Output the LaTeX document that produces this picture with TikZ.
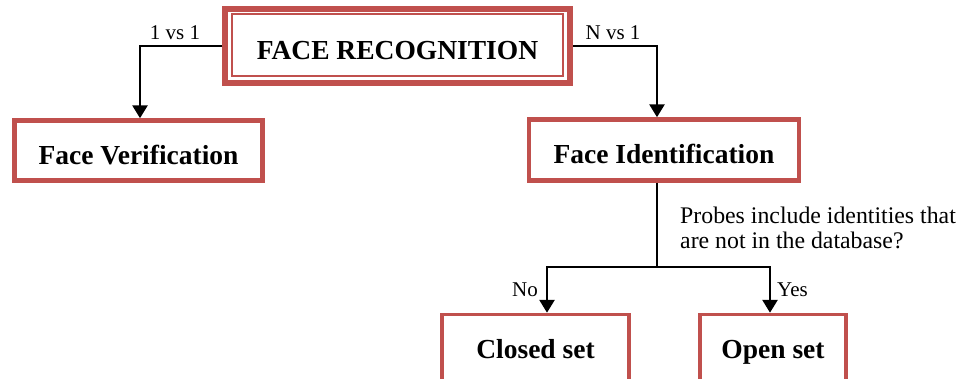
\documentclass[tikz,border=0pt]{standalone}
\usepackage{fontspec}
\setmainfont{Liberation Serif}
\usetikzlibrary{arrows.meta}
\definecolor{boxred}{RGB}{192,80,77}
\begin{document}
\begin{tikzpicture}[x=1pt,y=-1pt,
  box/.style={draw=boxred, fill=white, rectangle, inner sep=0pt,
    text height=#1, text depth=0pt,
    font=\fontsize{27.5}{30}\selectfont\bfseries},
  box/.default=20pt,
  conn/.style={line width=2.8pt, draw=black},
  arr/.style={conn, -{Triangle[width=15pt,length=13pt]}},
  lbl/.style={inner sep=0pt, font=\fontsize{21}{25}\selectfont}
]
\useasboundingbox (0,0) rectangle (960,378);
\clip (0,0) rectangle (960,378);

% root box with a doubled frame
\node[box=27pt, line width=6pt, minimum width=345pt, minimum height=74pt] (rec) at (397.5,46) {FACE RECOGNITION};
\draw[boxred, line width=1.8pt] ([xshift=10pt,yshift=-8pt]rec.north west) rectangle ([xshift=-10pt,yshift=10pt]rec.south east);

% second level
\node[box=28pt, line width=4.5pt, minimum width=248pt, minimum height=60pt] (ver) at (138.5,150.5) {Face Verification};
\node[box=26pt, line width=4.5pt, minimum width=270pt, minimum height=61pt] (ide) at (664,150) {Face Identification};

% leaves
\node[box, line width=3.5pt, minimum width=187pt, minimum height=67pt] (cls) at (535.5,348) {Closed set};
\node[box, line width=3.5pt, minimum width=146pt, minimum height=67pt] (opn) at (773,348) {Open set};

% connectors
\draw[arr] (rec.west) -| ([xshift=1.5pt]ver.north);
\draw[arr] (rec.east) -| ([xshift=-7pt]ide.north);
\coordinate (split) at (657,267);
\draw[conn] ([xshift=-7pt]ide.south) -- (split);
\draw[arr] (split) -| ([xshift=11.5pt]cls.north);
\draw[arr] (split) -| ([xshift=-3pt]opn.north);

% labels
\node[lbl] (l11) at (175,33) {1 vs 1};
\node[lbl] (ln1) at (613,33) {N vs 1};
\node[lbl, anchor=east] (lno) at (538,290) {No};
\node[lbl, anchor=west] (lyes) at (777,290) {Yes};
\node[lbl, anchor=west, align=left, font=\fontsize{23.8}{25}\selectfont] (q) at (680,227.5)
  {Probes include identities that\\are not in the database?};
\end{tikzpicture}
\end{document}
